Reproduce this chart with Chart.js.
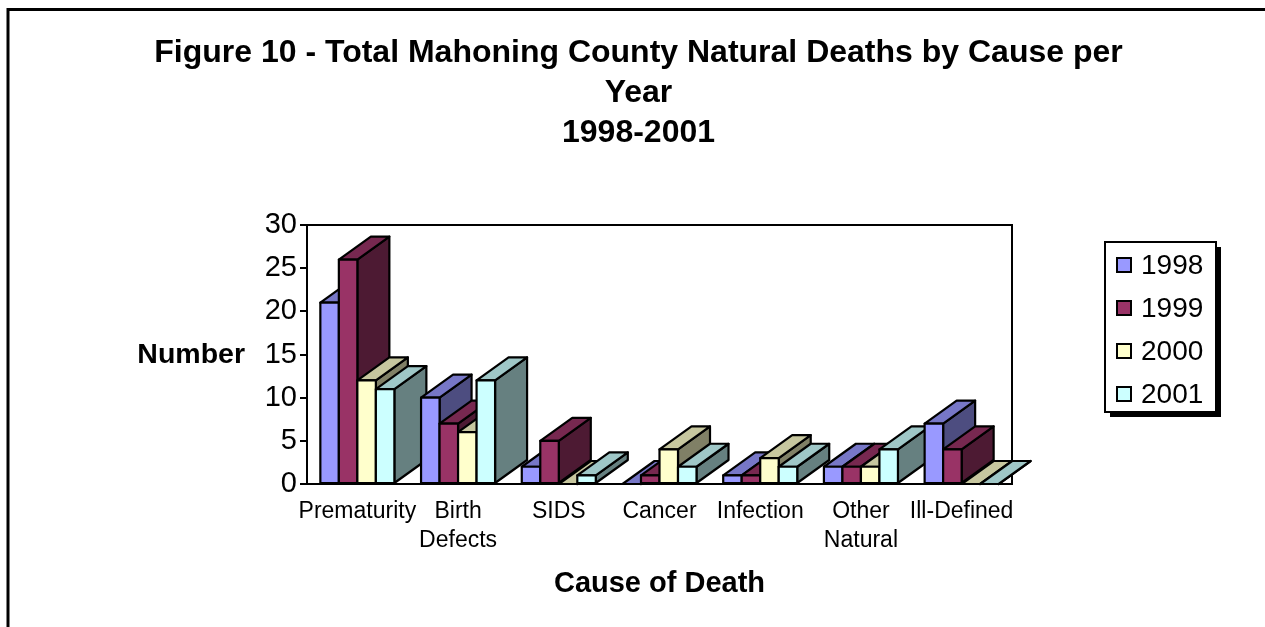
<!DOCTYPE html>
<html>
<head>
<meta charset="utf-8">
<script src="https://cdn.jsdelivr.net/npm/chart.js@4/dist/chart.umd.min.js"></script>
<style>
  html, body { margin: 0; padding: 0; background: #fff; }
  #wrap { width: 1265px; height: 627px; }
</style>
</head>
<body>
<div id="wrap"><canvas id="chart"></canvas></div>
<script>
// Kategóriák és évenkénti értékek
const causes = ["Prematurity", ["Birth", "Defects"], "SIDS", "Cancer", "Infection", ["Other", "Natural"], "Ill-Defined"];
const years = ["1998", "1999", "2000", "2001"];
const v1998 = [21, 10, 2, 0, 1, 2, 7];
const v1999 = [26, 7, 5, 1, 1, 2, 4];
const v2000 = [12, 6, 0, 4, 3, 2, 0];
const v2001 = [11, 12, 1, 2, 2, 4, 0];
const yTicks = [0, 5, 10, 15, 20, 25, 30];

const frontColors = ["#9999ff", "#993366", "#ffffcc", "#ccffff"];
const FONT = "'Liberation Sans', Arial, sans-serif";

function shade(hex, f) {
  const n = parseInt(hex.slice(1), 16);
  const r = Math.round(((n >> 16) & 255) * f);
  const g = Math.round(((n >> 8) & 255) * f);
  const b = Math.round((n & 255) * f);
  return `rgb(${r},${g},${b})`;
}

// 3D hasábok rajzolása a Chart.js elemek koordinátáiból
const bars3d = {
  id: "bars3d",
  beforeDatasetDraw() {
    return false;
  },
  beforeDatasetsDraw(chart) {
    const { ctx, chartArea: a } = chart;
    ctx.save();
    ctx.strokeStyle = "#000";
    ctx.lineWidth = 2;
    ctx.beginPath();
    ctx.moveTo(a.left, a.top);
    ctx.lineTo(a.right, a.top);
    ctx.lineTo(a.right, a.bottom);
    ctx.stroke();
    ctx.restore();
  },
  afterDatasetsDraw(chart) {
    const ctx = chart.ctx;
    const dx = 32, dy = -23;
    ctx.save();
    ctx.strokeStyle = "#000";
    ctx.lineWidth = 2.2;
    ctx.lineJoin = "round";
    const n = chart.data.labels.length;
    for (let i = 0; i < n; i++) {
      chart.data.datasets.forEach((ds, d) => {
        const el = chart.getDatasetMeta(d).data[i];
        const { x, y, base, width } = el.getProps(["x", "y", "base", "width"], true);
        const l = x - width / 2, r = x + width / 2, t = y, b = base;
        const col = ds.backgroundColor;
        const poly = (pts, fill) => {
          ctx.beginPath();
          ctx.moveTo(pts[0][0], pts[0][1]);
          for (let k = 1; k < pts.length; k++) ctx.lineTo(pts[k][0], pts[k][1]);
          ctx.closePath();
          ctx.fillStyle = fill;
          ctx.fill();
          ctx.stroke();
        };
        poly([[r, b], [r + dx, b + dy], [r + dx, t + dy], [r, t]], shade(col, 0.5));
        poly([[l, t], [l + dx, t + dy], [r + dx, t + dy], [r, t]], shade(col, 0.78));
        poly([[l, t], [r, t], [r, b], [l, b]], col);
      });
    }
    ctx.restore();
  },
  afterDraw(chart) {
    const ctx = chart.ctx;
    ctx.save();
    // külső keret
    ctx.strokeStyle = "#000";
    ctx.lineWidth = 3;
    ctx.beginPath();
    ctx.moveTo(8, 640);
    ctx.lineTo(8, 9.5);
    ctx.lineTo(1280, 9.5);
    ctx.stroke();

    // y tengely felirata
    ctx.fillStyle = "#000";
    ctx.font = "bold 28.5px " + FONT;
    ctx.textAlign = "right";
    ctx.textBaseline = "middle";
    ctx.fillText("Number", 245, 355);

    // jelmagyarázat
    const bx = 1105, by = 242, bw = 111, bh = 170;
    ctx.fillStyle = "#000";
    ctx.fillRect(bx + 5, by + 5, bw, bh);
    ctx.fillStyle = "#fff";
    ctx.fillRect(bx, by, bw, bh);
    ctx.lineWidth = 2;
    ctx.strokeRect(bx, by, bw, bh);
    ctx.font = "28px " + FONT;
    ctx.textAlign = "left";
    chart.data.datasets.forEach((ds, d) => {
      const cy = 265 + d * 43;
      ctx.fillStyle = ds.backgroundColor;
      ctx.fillRect(1117, cy - 7, 14, 14);
      ctx.strokeRect(1117, cy - 7, 14, 14);
      ctx.fillStyle = "#000";
      ctx.fillText(ds.label, 1141, cy + 1);
    });
    ctx.restore();
  }
};

const values = [v1998, v1999, v2000, v2001];

new Chart(document.getElementById("chart"), {
  type: "bar",
  data: {
    labels: causes,
    datasets: years.map((yr, d) => ({
      label: yr,
      data: values[d],
      backgroundColor: frontColors[d],
      borderColor: "#000",
      borderWidth: 2,
      categoryPercentage: 0.735,
      barPercentage: 1.0
    }))
  },
  options: {
    responsive: true,
    maintainAspectRatio: false,
    animation: false,
    layout: { padding: { left: 12, right: 0, top: 0, bottom: 0 } },
    plugins: {
      legend: { display: false },
      tooltip: { enabled: false },
      title: {
        display: true,
        text: ["Figure 10 - Total Mahoning County Natural Deaths by Cause per", "Year", "1998-2001"],
        color: "#000",
        font: { family: FONT, size: 32, weight: "bold", lineHeight: 1.25 },
        padding: { top: 33, bottom: 72 }
      }
    },
    scales: {
      x: {
        afterFit: (s) => { s.height = 143; },
        grid: { display: true, drawOnChartArea: false, drawTicks: false },
        border: { display: true, color: "#000", width: 2 },
        ticks: {
          color: "#000",
          padding: 13,
          maxRotation: 0,
          autoSkip: false,
          font: { family: FONT, size: 23, lineHeight: 1.26 }
        },
        title: {
          display: true,
          text: "Cause of Death",
          color: "#000",
          font: { family: FONT, size: 29, weight: "bold" },
          padding: { top: 0, bottom: 26 }
        }
      },
      y: {
        min: 0,
        max: 30,
        afterFit: (s) => { s.width = 295; },
        afterBuildTicks: (s) => { s.ticks = yTicks.map((v) => ({ value: v })); },
        grid: { display: true, drawOnChartArea: false, drawTicks: true, tickLength: 7, color: "#000", lineWidth: 2 },
        border: { display: true, color: "#000", width: 2 },
        ticks: {
          color: "#000",
          padding: 3,
          font: { family: FONT, size: 29 }
        }
      },
      // üres jobb oldali tengely: helyet hagy a jelmagyarázatnak
      yRight: {
        position: "right",
        display: true,
        afterFit: (s) => { s.width = 253; },
        grid: { display: false },
        border: { display: false },
        ticks: { display: false }
      }
    }
  },
  plugins: [bars3d]
});
</script>
</body>
</html>
